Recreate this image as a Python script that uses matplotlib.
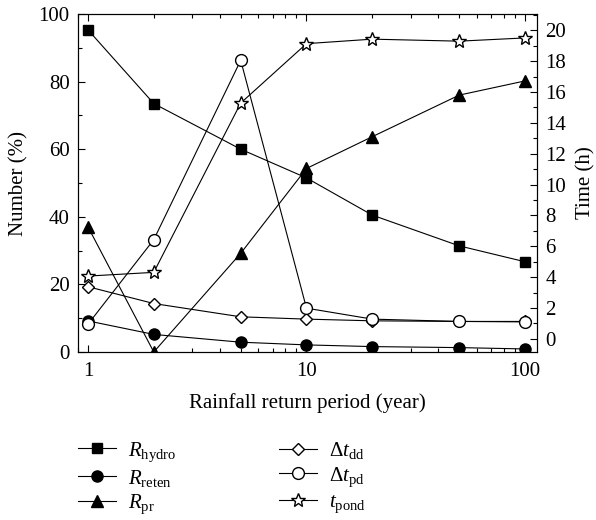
import matplotlib
matplotlib.use("Agg")
import matplotlib.pyplot as plt
from matplotlib.ticker import MultipleLocator, LogLocator, NullFormatter, FixedLocator, FixedFormatter

plt.rcParams["font.family"] = ["Liberation Serif", "DejaVu Serif"]
plt.rcParams["mathtext.fontset"] = "custom"
plt.rcParams["mathtext.rm"] = "Liberation Serif"
plt.rcParams["mathtext.it"] = "Liberation Serif:italic"

# rainfall return period (year)
period = [1, 2, 5, 10, 20, 50, 100]
# left axis, Number (%)
r_hydro = [95.3, 73.5, 60.0, 51.5, 40.5, 31.4, 26.7]
r_reten = [9.2, 5.2, 2.9, 2.1, 1.6, 1.3, 0.9]
r_pr = [37.0, 0.0, 29.2, 54.3, 63.7, 76.0, 80.2]
# right axis, Time (h)
dt_dd = [3.38, 2.29, 1.43, 1.28, 1.17, 1.13, 1.13]
dt_pd = [0.95, 6.43, 18.05, 1.99, 1.28, 1.13, 1.10]
t_pond = [4.07, 4.31, 15.28, 19.13, 19.42, 19.29, 19.50]

FS = 15
W, H = 596, 520
fig = plt.figure(figsize=(W / 100, H / 100), dpi=100)
ax = fig.add_axes([78 / W, 1 - 352 / H, 459 / W, 338 / H])
ax2 = ax.twinx()

lk = dict(color="black", lw=0.8, mec="black", mew=1.0)
h1, = ax.plot(period, r_hydro, marker="s", ms=7.5, mfc="black", **lk)
h2, = ax.plot(period, r_reten, marker="o", ms=8, mfc="black", **lk)
h3, = ax.plot(period, r_pr, marker="^", ms=8.5, mfc="black", **lk)
h4, = ax2.plot(period, dt_dd, marker="D", ms=6.5, mfc="white", **lk)
h5, = ax2.plot(period, dt_pd, marker="o", ms=8.5, mfc="white", **lk)
h6, = ax2.plot(period, t_pond, marker="*", ms=10, mfc="white", **lk)

ax.set_xscale("log")
ax.set_xlim(0.9, 113.5)
ax.set_ylim(0, 100)
ax2.set_ylim(-0.85, 21.05)

ax.xaxis.set_major_locator(FixedLocator([1, 10, 100]))
ax.xaxis.set_major_formatter(FixedFormatter(["1", "10", "100"]))
ax.xaxis.set_minor_locator(LogLocator(base=10, subs=range(2, 10)))
ax.xaxis.set_minor_formatter(NullFormatter())
ax.yaxis.set_major_locator(MultipleLocator(20))
ax.yaxis.set_minor_locator(MultipleLocator(10))
ax2.yaxis.set_major_locator(MultipleLocator(2))
ax2.yaxis.set_minor_locator(MultipleLocator(1))

ax.tick_params(axis="x", which="both", direction="in", top=True, labelsize=FS, pad=7)
ax.tick_params(axis="y", which="both", direction="in", labelsize=FS, pad=6)
ax2.tick_params(axis="y", which="both", direction="in", labelsize=FS, pad=6)
for a in (ax, ax2):
    a.tick_params(which="major", length=5, width=0.8)
    a.tick_params(which="minor", length=3, width=0.8)
    for s in a.spines.values():
        s.set_linewidth(0.8)

ax.set_xlabel("Rainfall return period (year)", fontsize=FS, va="center")
ax.set_ylabel("Number (%)", fontsize=FS, va="center")
ax2.set_ylabel("Time (h)", fontsize=FS, va="center")
ax.xaxis.set_label_coords(0.5, (352 - 403) / 338)
ax.yaxis.set_label_coords((19 - 78) / 459, 0.5)
ax2.yaxis.set_label_coords((586 - 78) / 459, 0.5)

leg_kw = dict(loc="upper left", frameon=False, fontsize=FS, borderpad=0,
              borderaxespad=0, handlelength=1.8, handletextpad=0.6,
              labelspacing=0.2)
fig.legend([h1, h2, h3],
           [r"$R_{\mathrm{hydro}}$", r"$R_{\mathrm{reten}}$", r"$R_{\mathrm{pr}}$"],
           bbox_to_anchor=(78 / W, 1 - 440 / H), **leg_kw)
fig.legend([h4, h5, h6],
           [r"$\Delta t_{\mathrm{dd}}$", r"$\Delta t_{\mathrm{pd}}$", r"$t_{\mathrm{pond}}$"],
           bbox_to_anchor=(279 / W, 1 - 440 / H), **leg_kw)

fig.savefig("out.png", dpi=100)
